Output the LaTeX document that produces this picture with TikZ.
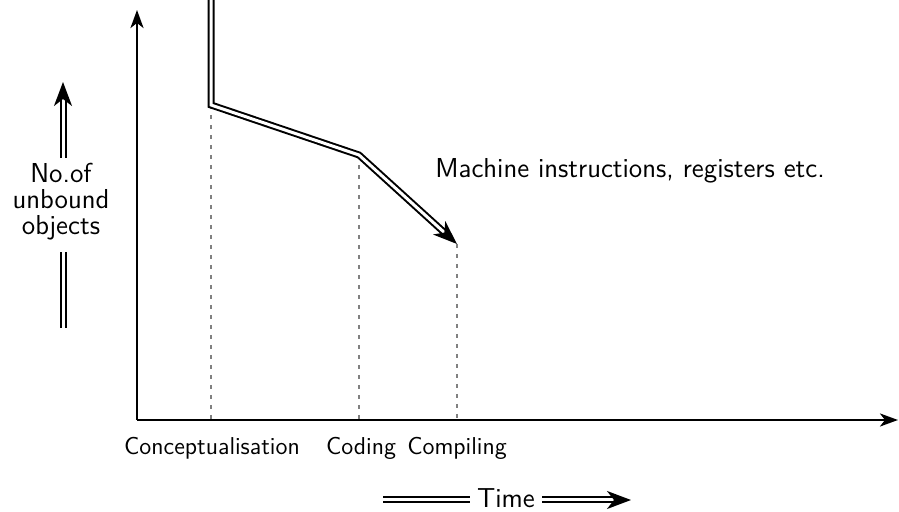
\documentclass[tikz,border=0pt]{standalone}
\usetikzlibrary{arrows.meta}
\begin{document}
\begin{tikzpicture}[x=0.5pt,y=-0.5pt,
  axis/.style={line width=1.3pt,-{Stealth[length=9pt,width=6.5pt,inset=2.5pt]}},
  dbl/.style={double,line width=1pt,double distance=1.5pt},
  dblarrow/.style={dbl,-{Stealth[length=12pt,width=9pt,inset=3.5pt]}},
  guide/.style={gray,line width=1.1pt,dash pattern=on 2pt off 3pt},
  lbl/.style={font=\sffamily\fontsize{13.7}{13}\selectfont,inner sep=0pt},
  small/.style={font=\sffamily\fontsize{12.2}{14}\selectfont,inner sep=0pt}]
\useasboundingbox (0,0) rectangle (899,512);
\coordinate (O) at (137,420);
\coordinate (Ytop) at (137,10);
\coordinate (Xend) at (898,420);
\coordinate (S) at (211,0);
\coordinate (A) at (211,105);
\coordinate (B) at (359,155);
\coordinate (C) at (457,244);
\coordinate (Ab) at (211,420);
\coordinate (Bb) at (359,420);
\coordinate (Cb) at (457,420);
\draw[guide] (A) -- (Ab);
\draw[guide] (B) -- (Bb);
\draw[guide] (C) -- (Cb);
\draw[axis] (O) -- (Ytop);
\draw[axis] (O) -- (Xend);
\draw[dblarrow] (S) -- (A) -- (B) -- (C);
\node[lbl,anchor=base west] (mi) at (435,178) {Machine instructions, registers etc.};
\node[lbl,align=center] (nobj) at (61,202) {No.of\\unbound\\objects};
\coordinate (u1) at (63,158);
\coordinate (u2) at (63,82);
\coordinate (d1) at (63,252);
\coordinate (d2) at (63,328);
\draw[dblarrow] (u1) -- (u2);
\draw[dbl] (d1) -- (d2);
\node[small,anchor=base] (con) at (212,455) {Conceptualisation};
\node[small,anchor=base] (cod) at (361,455) {Coding};
\node[small,anchor=base] (com) at (457,455) {Compiling};
\node[lbl,anchor=base] (time) at (506,508) {Time};
\coordinate (t1) at (383,500);
\coordinate (t2) at (470,500);
\coordinate (t3) at (542,500);
\coordinate (t4) at (631,500);
\draw[dbl] (t1) -- (t2);
\draw[dblarrow] (t3) -- (t4);
\end{tikzpicture}
\end{document}
